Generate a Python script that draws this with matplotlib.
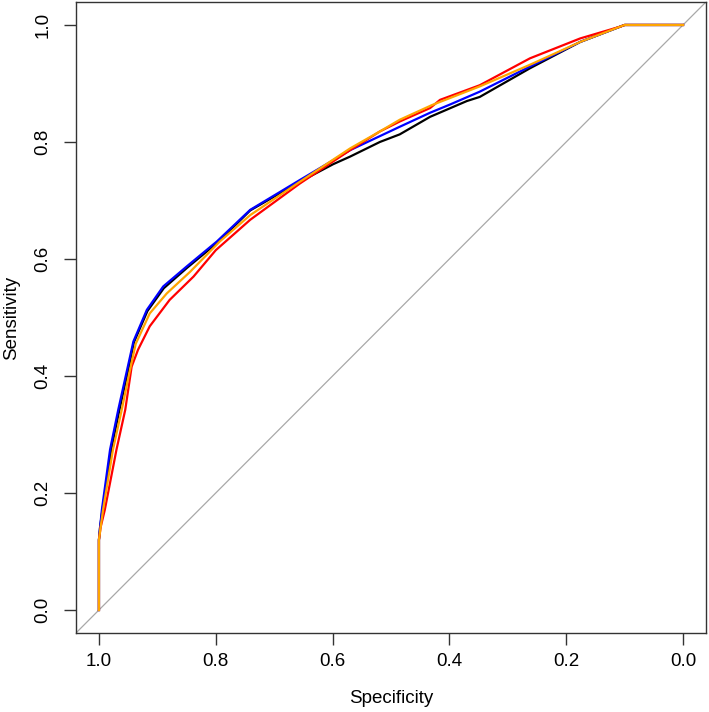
import matplotlib
matplotlib.use("Agg")
import matplotlib.pyplot as plt

plt.rcParams['font.family'] = ['Liberation Sans', 'DejaVu Sans']

# ROC curves (specificity, sensitivity)
spec_black = [1.0, 1.0, 0.998, 0.994, 0.979, 0.965, 0.951, 0.940, 0.917, 0.889, 0.849, 0.797, 0.741, 0.656, 0.599, 0.570, 0.519, 0.485, 0.433, 0.370, 0.348, 0.262, 0.176, 0.108, 0.10, 0.0]
sens_black = [0.0, 0.12, 0.142, 0.171, 0.274, 0.342, 0.405, 0.458, 0.511, 0.550, 0.585, 0.628, 0.683, 0.732, 0.762, 0.775, 0.800, 0.813, 0.843, 0.870, 0.877, 0.926, 0.971, 0.997, 1.0, 1.0]

spec_blue = [1.0, 1.0, 0.998, 0.995, 0.981, 0.967, 0.953, 0.941, 0.918, 0.890, 0.850, 0.798, 0.741, 0.656, 0.570, 0.519, 0.485, 0.433, 0.399, 0.348, 0.262, 0.176, 0.108, 0.10, 0.0]
sens_blue = [0.0, 0.12, 0.142, 0.171, 0.274, 0.342, 0.405, 0.459, 0.513, 0.553, 0.587, 0.630, 0.684, 0.735, 0.786, 0.810, 0.826, 0.850, 0.864, 0.886, 0.929, 0.971, 0.997, 1.0, 1.0]

spec_red = [1.0, 1.0, 0.997, 0.990, 0.970, 0.955, 0.944, 0.933, 0.913, 0.879, 0.838, 0.800, 0.741, 0.656, 0.570, 0.519, 0.485, 0.433, 0.416, 0.348, 0.262, 0.176, 0.108, 0.10, 0.0]
sens_red = [0.0, 0.12, 0.142, 0.171, 0.274, 0.342, 0.416, 0.445, 0.485, 0.530, 0.570, 0.615, 0.667, 0.729, 0.786, 0.818, 0.835, 0.858, 0.872, 0.897, 0.943, 0.977, 0.997, 1.0, 1.0]

spec_orange = [1.0, 1.0, 0.997, 0.993, 0.976, 0.961, 0.948, 0.937, 0.913, 0.884, 0.844, 0.793, 0.741, 0.656, 0.570, 0.519, 0.485, 0.430, 0.348, 0.262, 0.176, 0.108, 0.10, 0.0]
sens_orange = [0.0, 0.12, 0.142, 0.171, 0.274, 0.342, 0.405, 0.455, 0.507, 0.541, 0.578, 0.630, 0.675, 0.732, 0.789, 0.818, 0.838, 0.863, 0.895, 0.932, 0.971, 0.997, 1.0, 1.0]

ticks = [1.0, 0.8, 0.6, 0.4, 0.2, 0.0]
tick_labels = ["1.0", "0.8", "0.6", "0.4", "0.2", "0.0"]

fig = plt.figure(figsize=(7.09, 7.12), dpi=100)
ax = fig.add_axes([0.1066, 0.1104, 0.8897, 0.8874])

ax.plot([1.04, -0.04], [-0.04, 1.04], color='#a8a8a8', lw=0.9, zorder=1)
ax.plot(spec_black, sens_black, color='black', lw=1.6, zorder=2)
ax.plot(spec_blue, sens_blue, color='#0000ff', lw=1.6, zorder=3)
ax.plot(spec_red, sens_red, color='#ff0000', lw=1.6, zorder=4)
ax.plot(spec_orange, sens_orange, color='#ffa500', lw=1.6, zorder=5)

ax.set_xlim(1.04, -0.04)
ax.set_ylim(-0.04, 1.04)
ax.set_xticks(ticks)
ax.set_xticklabels(tick_labels)
ax.set_yticks(ticks)
ax.set_yticklabels(tick_labels, rotation=90, va='center')

for s in ax.spines.values():
    s.set_color('#333333')
    s.set_linewidth(1.0)

ax.tick_params(axis='both', length=8.4, width=1.0, color='#333333', labelsize=13.5)
ax.tick_params(axis='x', pad=6)
ax.tick_params(axis='y', pad=9)

ax.set_xlabel('Specificity', fontsize=13.5, labelpad=14)
ax.set_ylabel('Sensitivity', fontsize=13.5, labelpad=10)

fig.savefig('out.png', dpi=100)
